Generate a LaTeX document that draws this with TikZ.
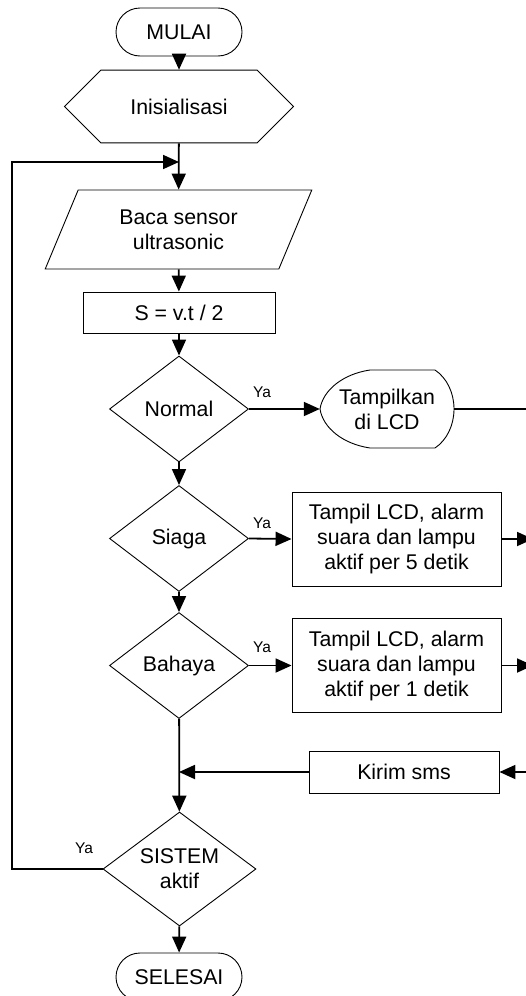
\documentclass[tikz,border=0pt]{standalone}
\usepackage{fontspec}
\setmainfont{Liberation Sans}
\usetikzlibrary{shapes.geometric,shapes.misc,arrows.meta}

\tikzset{
  every node/.style={font=\fontsize{21.3}{25}\selectfont, align=center, inner sep=0pt},
  shape line/.style={draw, line width=0.9pt},
  arr/.style={-{Triangle[length=16pt,width=14pt]}, line width=1.8pt},
  link/.style={line width=1.8pt},
  terminal/.style={shape line, rectangle, rounded corners=24pt, minimum width=126pt, minimum height=48pt},
  prep/.style={shape line, chamfered rectangle, chamfered rectangle xsep=48pt, chamfered rectangle ysep=28.5pt, minimum width=229pt, minimum height=57pt},
  io/.style={shape line, trapezium, trapezium left angle=64, trapezium right angle=116, trapezium stretches=true, minimum width=267pt, minimum height=79pt},
  process/.style={shape line, rectangle, minimum width=209pt, minimum height=94pt},
  decision/.style={shape line, diamond, aspect=1.3, minimum width=139pt, minimum height=106pt},
  ya/.style={font=\fontsize{15.5}{17}\selectfont}
}

\begin{document}
\begin{tikzpicture}[x=1pt,y=-1pt]
\useasboundingbox (0,0) rectangle (526,996);
\clip (0,0) rectangle (526,996);

\node [terminal] (mulai) at (179,32) {MULAI};
\node [prep] (init) at (179,106.5) {Inisialisasi};
\node [io] (baca) at (178.5,229.5) {Baca sensor\\ultrasonic};
\node [process, minimum width=192pt, minimum height=41pt] (hitung) at (179,312.5) {S = v.t / 2};
\node [decision] (normal) at (179,409) {Normal};

% display shape drawn by hand
\node [minimum width=134pt, minimum height=78pt] (tampil) at (387,409) {Tampilkan\\di LCD};
\draw [shape line] (370,370) -- (435,370) .. controls (447,378) and (454,393) .. (454,409)
  .. controls (454,425) and (447,440) .. (435,448) -- (370,448)
  .. controls (343,444) and (323,428) .. (320,409)
  .. controls (323,390) and (343,374) .. (370,370) -- cycle;

\node [decision] (siaga) at (179,538.5) {Siaga};
\node [process] (alarm5) at (396.5,539) {Tampil LCD, alarm\\suara dan lampu\\aktif per 5 detik};
\node [decision] (bahaya) at (179,665.5) {Bahaya};
\node [process] (alarm1) at (396.5,665.5) {Tampil LCD, alarm\\suara dan lampu\\aktif per 1 detik};
\node [process, minimum width=190pt, minimum height=42pt] (kirim) at (404,772) {Kirim sms};
\node [decision, minimum width=153pt, minimum height=114pt] (sistem) at (179.5,869) {SISTEM\\aktif};
\node [terminal] (selesai) at (179,977) {SELESAI};

\node [ya] (ya1) at (262,392) {Ya};
\node [ya] (ya2) at (262,523) {Ya};
\node [ya] (ya3) at (262,647) {Ya};
\node [ya] (ya4) at (84,848) {Ya};

\coordinate (join) at (179,162);
\coordinate (loopl) at (12,869);
\coordinate (merge) at (179,772);
\coordinate (out1) at (530,409);
\coordinate (out2) at (533,539);
\coordinate (out3) at (533,665.5);
\coordinate (in4) at (540,772);

\draw [arr] (mulai) -- (init);
\draw [arr] (init) -- (baca);
\draw [arr] (baca) -- (hitung);
\draw [arr] (hitung) -- (normal);
\draw [arr] (normal) -- (siaga);
\draw [arr] (siaga) -- (bahaya);
\draw [arr] (bahaya) -- (sistem);
\draw [arr] (sistem) -- (selesai);

\draw [arr] (normal.east) -- (tampil.west);
\draw [link] (tampil.east) -- (out1);
\draw [arr] (siaga.east) -- (alarm5.west);
\draw [arr] (alarm5.east) -- (out2);
\draw [arr] (bahaya.east) -- (alarm1.west);
\draw [arr] (alarm1.east) -- (out3);
\draw [arr] (in4) -- (kirim.east);
\draw [arr] (kirim.west) -- (merge);

\draw [arr] (sistem.west) -- (loopl) |- (join);

\end{tikzpicture}
\end{document}
